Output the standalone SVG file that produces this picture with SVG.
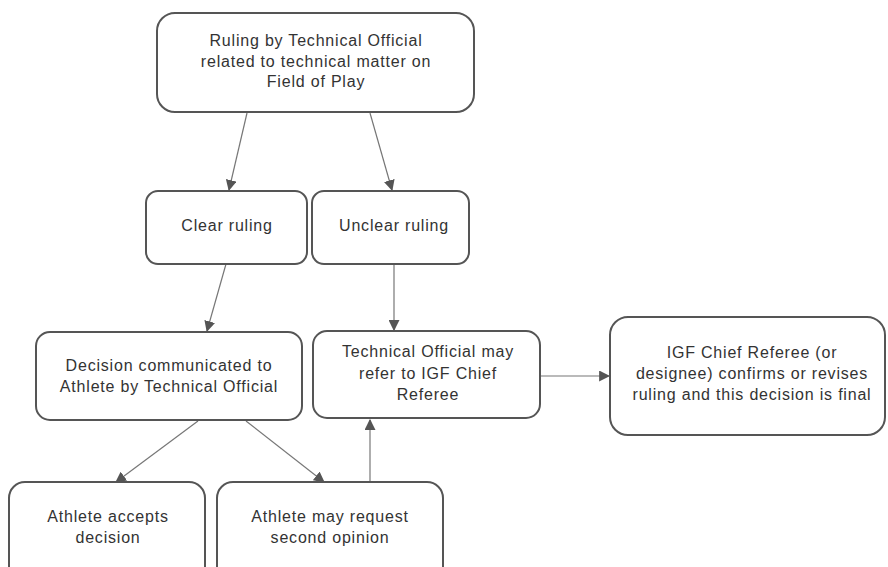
<svg xmlns="http://www.w3.org/2000/svg" width="888" height="567" viewBox="0 0 888 567">
<defs>
<marker id="ah" viewBox="0 0 10 10" refX="9" refY="5" markerWidth="11" markerHeight="11" markerUnits="userSpaceOnUse" orient="auto">
<path d="M0,0 L10,5 L0,10 z" fill="#555"/>
</marker>
<style>
.box{fill:#fff;stroke:#555;stroke-width:2}
.t{font-family:"Liberation Sans",Arial,sans-serif;font-size:16px;letter-spacing:0.8px;fill:#333;text-anchor:middle}
.c{stroke:#777;stroke-width:1.2;fill:none;marker-end:url(#ah)}
</style>
</defs>
<rect width="888" height="567" fill="#fff"/>
<g id="connectors">
<line class="c" x1="247" y1="113" x2="229" y2="190"/>
<line class="c" x1="370" y1="113" x2="392" y2="190"/>
<line class="c" x1="226" y1="264" x2="207" y2="331"/>
<line class="c" x1="394" y1="264" x2="394" y2="330"/>
<line class="c" x1="541" y1="376" x2="609" y2="376"/>
<line class="c" x1="198" y1="421" x2="116" y2="482"/>
<line class="c" x1="246" y1="421" x2="324" y2="482"/>
<line class="c" x1="370" y1="482" x2="370" y2="420"/>
</g>
<g id="n1"><rect class="box" x="157" y="13" width="317" height="99" rx="18"/>
<text class="t" x="316" y="46">Ruling by Technical Official</text>
<text class="t" x="316" y="66.5">related to technical matter on</text>
<text class="t" x="316" y="87">Field of Play</text></g>
<g id="n2"><rect class="box" x="146" y="191" width="161" height="73" rx="12"/>
<text class="t" x="227" y="231">Clear ruling</text></g>
<g id="n3"><rect class="box" x="312" y="191" width="157" height="73" rx="12"/>
<text class="t" x="394" y="231">Unclear ruling</text></g>
<g id="n4"><rect class="box" x="36" y="332" width="266" height="88" rx="14"/>
<text class="t" x="169" y="371">Decision communicated to</text>
<text class="t" x="169" y="392">Athlete by Technical Official</text></g>
<g id="n5"><rect class="box" x="313" y="331" width="227" height="87" rx="14"/>
<text class="t" x="428" y="357">Technical Official may</text>
<text class="t" x="428" y="379">refer to IGF Chief</text>
<text class="t" x="428" y="400">Referee</text></g>
<g id="n6"><rect class="box" x="610" y="317" width="275" height="118" rx="18"/>
<text class="t" x="752" y="358">IGF Chief Referee (or</text>
<text class="t" x="752" y="379">designee) confirms or revises</text>
<text class="t" x="752" y="400">ruling and this decision is final</text></g>
<g id="n7"><rect class="box" x="9" y="482" width="196" height="100" rx="16"/>
<text class="t" x="108" y="522">Athlete accepts</text>
<text class="t" x="108" y="543">decision</text></g>
<g id="n8"><rect class="box" x="217" y="482" width="226" height="100" rx="16"/>
<text class="t" x="330" y="522">Athlete may request</text>
<text class="t" x="330" y="543">second opinion</text></g>
</svg>
